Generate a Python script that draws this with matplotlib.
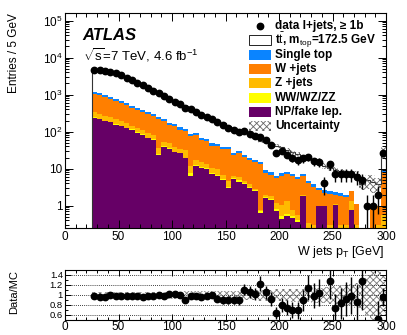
import numpy as np
import matplotlib
matplotlib.use("Agg")
import matplotlib.pyplot as plt
from matplotlib.patches import Rectangle
from matplotlib.lines import Line2D
from matplotlib.ticker import MultipleLocator, LogLocator, FixedLocator, FuncFormatter, NullFormatter

plt.rcParams['font.family'] = ['Liberation Sans', 'DejaVu Sans']
plt.rcParams['mathtext.fontset'] = 'custom'
plt.rcParams['mathtext.rm'] = 'Liberation Sans'
plt.rcParams['mathtext.it'] = 'Liberation Sans:italic'
plt.rcParams['mathtext.bf'] = 'Liberation Sans:bold'
plt.rcParams['hatch.linewidth'] = 0.6

# ---------------- data (bins of 5 GeV from 25 to 300 GeV) ----------------
bin_low = 25
bin_high = 300
bin_width = 5

data = [4500, 4550, 4450, 4200, 3750, 3300, 2850, 2450, 2100, 1800,
        1520, 1280, 1080, 900, 760, 640, 545, 445, 400, 340,
        290, 250, 220, 180, 150, 128, 112, 97, 104, 87,
        74, 70, 58, 44, 27, 30, 24, 20, 17, 19,
        21, 16, 15, 4, 13, 7, 7, 7, 7, 6,
        5, 1, 1, 2, 27]

np_fake = [240, 215, 194, 180, 155, 140, 126, 113, 92, 83,
           67, 60, 23, 39, 35, 28, 26, 19, 6.5, 12,
           10.5, 10, 7.2, 6.5, 4.9, 2.95, 5.2, 4.5, 3.8, 3.1,
           2.5, 0.63, 1.6, 1.45, 0.7, 0.45, 0.54, 0.48, 0.37, 1.8,
           0, 0, 0.96, 0.96, 0, 1.07, 0, 0, 0.78, 0,
           0, 0, 0, 0, 0]

diboson = [6, 5, 5, 5, 4, 4, 3, 3, 3, 2.5,
           2, 2, 1.5, 1.5, 1.2, 1, 1, 1, 1, 0.8,
           0.6, 0.5, 0.5, 0.4, 0.3, 0.3, 0.3, 0.3, 0.2, 0.2,
           0.1, 0.1, 0.1, 0.1, 0.1, 0.07, 0.06, 0.05, 0.04, 0.04,
           0.03, 0.03, 0, 0, 0, 0, 0, 0, 0, 0,
           0, 0, 0, 0, 0]

zjets = [84, 75, 66, 70, 56, 49, 37, 30, 31, 27.5,
         23, 21, 11.5, 13.5, 11.8, 10, 8, 12, 4, 4.2,
         3.9, 2.5, 2.8, 3.1, 1.7, 1.45, 1.0, 1.0, 0.7, 0.5,
         0.2, 0.05, 0.3, 0.25, 0.4, 0.55, 0.7, 0.25, 0.15, 0.16,
         0.32, 0.27, 0, 0.04, 0.3, 0.03, 0.3, 0.3, 0.52, 0.3,
         0, 0, 0, 0.3, 0.56]

wjets = [730, 660, 585, 515, 465, 390, 346, 296, 262, 227,
         203, 181, 189, 144, 106, 104, 79, 74, 63.5, 62,
         44, 42.5, 31.5, 30.5, 27.4, 29.8, 17, 20.7, 15.5, 12.9,
         12.2, 12.4, 5.8, 5.1, 4.4, 5.43, 5.7, 5.42, 4.64, 4.2,
         3.65, 2.9, 1.64, 1.2, 1.8, 0.9, 1.5, 1.4, 1.2, 0.8,
         0, 0, 0.85, 0.7, 7.44]

single_top = [140, 125, 110, 100, 90, 77, 68, 58, 52, 45,
              40, 36, 30, 27, 21, 19, 16, 14, 10, 11,
              8, 7.5, 6, 5.5, 4.7, 4.5, 3.5, 3.5, 2.8, 2.3,
              2, 1.8, 1.2, 1.1, 0.9, 1.0, 1.0, 1.0, 0.9, 1.0,
              0.7, 0.6, 0.5, 0.4, 0.4, 0.4, 0.4, 0.3, 0, 0,
              0, 0, 0, 0, 1.0]

ttbar = [3415, 3680, 3630, 3370, 3020, 2690, 2340, 2025, 1690, 1480,
         1225, 1000, 825, 690, 575, 463, 415, 370, 320, 260,
         233, 193, 172, 149, 127, 103, 97, 78, 71, 63,
         55, 42, 46.2, 39.8, 35.5, 30, 24, 21.3, 18.5, 14.1,
         13.7, 12.4, 11.2, 9.4, 7.7, 7.1, 6.2, 5.6, 4.6, 5.9,
         3.9, 4.8, 3.65, 2.85, 19]

rel_unc = [0.06, 0.06, 0.06, 0.06, 0.06, 0.06, 0.06, 0.06, 0.065, 0.065,
           0.065, 0.065, 0.07, 0.07, 0.07, 0.07, 0.07, 0.075, 0.075, 0.075,
           0.08, 0.08, 0.08, 0.085, 0.085, 0.09, 0.09, 0.09, 0.1, 0.1,
           0.1, 0.11, 0.11, 0.11, 0.12, 0.12, 0.12, 0.13, 0.13, 0.13,
           0.14, 0.15, 0.15, 0.16, 0.17, 0.18, 0.19, 0.2, 0.22, 0.25,
           0.3, 0.4, 0.5, 0.5, 0.4]

legend_labels = ["data l+jets, \u2265 1b",
                 r"t$\bar{\rm t}$, m$_{\rm top}$=172.5 GeV",
                 "Single top", "W +jets", "Z +jets", "WW/WZ/ZZ",
                 "NP/fake lep.", "Uncertainty"]

# ---------------- styling ----------------
c_tt = 'white'
c_st = '#0A84FF'
c_w = '#FF7F00'
c_z = '#FFBB00'
c_ww = '#FFFF00'
c_np = '#660066'

W, H = 407, 335
fig = plt.figure(figsize=(W / 100, H / 100), dpi=100)

def fx(px):
    return px / W

def fy(py):
    return 1 - py / H

ax = fig.add_axes([fx(65), fy(228), fx(386) - fx(65), fy(13) - fy(228)])
axr = fig.add_axes([fx(65), fy(320), fx(386) - fx(65), fy(270) - fy(320)])

edges = np.arange(bin_low, bin_high + bin_width, bin_width)
centers = 0.5 * (edges[:-1] + edges[1:])

d = np.array(data, float)
layers = [np.array(np_fake, float), np.array(diboson, float), np.array(zjets, float),
          np.array(wjets, float), np.array(single_top, float), np.array(ttbar, float)]
colors = [c_np, c_ww, c_z, c_w, c_st, c_tt]

floor = 1e-3
cum = np.zeros_like(d)
for vals, col in zip(layers, colors):
    new = cum + vals
    ax.stairs(np.maximum(new, floor), edges, baseline=np.maximum(cum, floor),
              fill=True, facecolor=col, edgecolor='none', linewidth=0)
    cum = new
total = cum
ax.stairs(total, edges, baseline=floor, fill=False, color='#333333', lw=0.8)

u = np.array(rel_unc)
ax.stairs(total * (1 + u), edges, baseline=total * (1 - u), fill=True,
          facecolor='none', edgecolor='#666666', hatch='xxxxx', linewidth=0)

yerr_lo = np.minimum(np.sqrt(d), d - 1e-3)
yerr_hi = np.sqrt(d)
ax.errorbar(centers, d, yerr=[yerr_lo, yerr_hi], fmt='o', color='k', ms=4.6,
            elinewidth=1.0, capsize=0, zorder=5)

ax.set_xlim(0, 300)
ax.set_yscale('log')
ax.set_ylim(0.25, 1.6e5)

def yfmt(v, pos):
    if abs(v - 1) < 1e-9:
        return "1"
    if abs(v - 10) < 1e-9:
        return "10"
    e = int(round(np.log10(v)))
    return r"10$^{%d}$" % e

ax.yaxis.set_major_locator(FixedLocator([1, 10, 100, 1e3, 1e4, 1e5]))
ax.yaxis.set_major_formatter(FuncFormatter(yfmt))
ax.yaxis.set_minor_locator(LogLocator(base=10, subs=np.arange(2, 10), numticks=20))
ax.yaxis.set_minor_formatter(NullFormatter())
ax.xaxis.set_major_locator(MultipleLocator(50))
ax.xaxis.set_minor_locator(MultipleLocator(10))

for a in (ax, axr):
    a.tick_params(which='both', direction='in', top=True, right=True, labelsize=8.5,
                  width=0.7, pad=2)
    a.tick_params(which='major', length=6)
    a.tick_params(which='minor', length=3)
    for s in a.spines.values():
        s.set_linewidth(0.8)

# ratio panel
ratio = d / total
rerr = np.sqrt(d) / total
axr.stairs(1 + u, edges, baseline=1 - u, fill=True, facecolor='none',
           edgecolor='#777777', hatch='xxxxx', linewidth=0)
for yv in [0.6, 0.8, 1.0, 1.2, 1.4]:
    axr.axhline(yv, ls=(0, (1, 1.5)), color='k', lw=0.6, zorder=1)
axr.errorbar(centers, ratio, yerr=rerr, fmt='o', color='k', ms=4.6,
             elinewidth=1.0, capsize=0, zorder=5)
axr.set_xlim(0, 300)
axr.set_ylim(0.5, 1.5)
axr.yaxis.set_major_locator(FixedLocator([0.6, 0.8, 1.0, 1.2, 1.4]))
axr.yaxis.set_major_formatter(FuncFormatter(lambda v, p: "%g" % v))
axr.yaxis.set_minor_locator(MultipleLocator(0.1))
axr.xaxis.set_major_locator(MultipleLocator(50))
axr.xaxis.set_minor_locator(MultipleLocator(10))
axr.tick_params(which='major', length=4)
axr.tick_params(which='minor', length=2)
axr.tick_params(axis='x', pad=1)
axr.tick_params(axis='y', labelsize=6.8, pad=1.5)

# texts
fig.text(fx(14), fy(13), "Entries / 5 GeV", rotation=90, ha='center', va='top', fontsize=8.5)
fig.text(fx(14), fy(270), "Data/MC", rotation=90, ha='center', va='top', fontsize=8)
fig.text(fx(385), fy(252), r"W jets p$_{\rm T}$ [GeV]", ha='right', va='center', fontsize=9)
fig.text(fx(82), fy(40), "ATLAS", ha='left', va='baseline', fontsize=12,
         fontweight='bold', fontstyle='italic')
fig.text(fx(83), fy(60), r"$\sqrt{\rm s}$=7 TeV, 4.6 fb$^{-1}$", ha='left', va='baseline',
         fontsize=9.5)

# legend (manual)
row0 = 26
dy = 14.3
box_x0, box_x1 = 249, 271
box_h = 10
for i, lab in enumerate(legend_labels):
    yc = row0 + i * dy
    if i == 0:
        fig.add_artist(Line2D([fx(260)], [fy(yc)], marker='o', color='k', ms=4.6,
                              transform=fig.transFigure))
    else:
        if i == 1:
            fc, ec, hatch = 'white', 'k', None
        elif i == 7:
            fc, ec, hatch = 'white', '#666666', 'xxxxx'
        else:
            fc = [c_st, c_w, c_z, c_ww, c_np][i - 2]
            ec, hatch = 'none', None
        r = Rectangle((fx(box_x0), fy(yc + box_h / 2)), fx(box_x1) - fx(box_x0),
                      fy(yc - box_h / 2) - fy(yc + box_h / 2), transform=fig.transFigure,
                      facecolor=fc, edgecolor=ec, hatch=hatch, lw=0.6 if i in (1,) else 0)
        fig.add_artist(r)
    fig.text(fx(275), fy(yc), lab, ha='left', va='center', fontsize=8.5, fontweight='bold')

fig.savefig("out.png", dpi=100)
